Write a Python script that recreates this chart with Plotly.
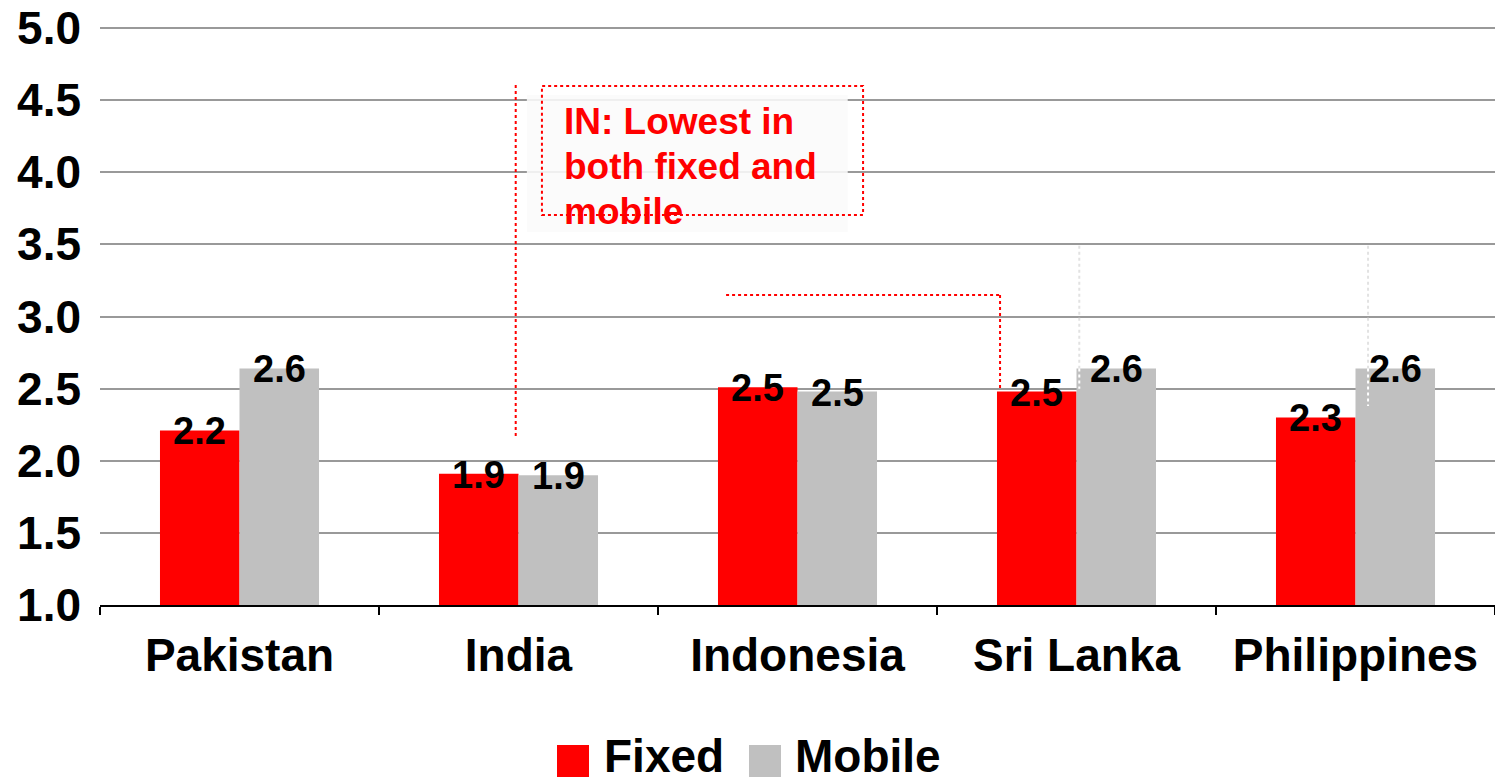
import plotly.graph_objects as go

# Average download speed score by country, fixed vs mobile
countries = ["Pakistan", "India", "Indonesia", "Sri Lanka", "Philippines"]
fixed = [2.21, 1.91, 2.51, 2.48, 2.30]
mobile = [2.64, 1.90, 2.48, 2.64, 2.64]
y_ticks = [1.0, 1.5, 2.0, 2.5, 3.0, 3.5, 4.0, 4.5, 5.0]
series_names = ["Fixed", "Mobile"]
callout_lines = ["IN: Lowest in", "both fixed and", "mobile"]

RED = "#FF0000"
GREY = "#C0C0C0"
GRID = "#999999"
FONT = "Liberation Sans, Arial, sans-serif"
W, H = 1495, 780
ML, MR, MT, MB = 100, 0, 28, 175
PW, PH = W - ML - MR, H - MT - MB
BARGAP = 0.43
Y_RANGE = [1, 5]

fig = go.Figure()
for name, vals, col in [(series_names[0], fixed, RED), (series_names[1], mobile, GREY)]:
    fig.add_bar(x=countries, y=vals, name=name, marker=dict(color=col, line=dict(width=0)),
                showlegend=False)

# value labels straddling the top of each bar
bar_w = (1 - BARGAP) / 2
annotations = []
for k, vals in enumerate([fixed, mobile]):
    off = (k - 0.5) * bar_w
    for i, v in enumerate(vals):
        annotations.append(dict(
            x=i + off, y=v, xref="x", yref="y", text=f"{v:.1f}", showarrow=False,
            xanchor="center", yanchor="middle", yshift=-1,
            font=dict(family=FONT, size=38, color="black", weight="bold")))

# top gridline sits on the plot edge, so draw it explicitly (unclipped)
shapes = [dict(type="line", xref="paper", yref="paper", x0=0, x1=1, y0=1, y1=1,
               line=dict(color=GRID, width=2), layer="below")]

# faint leftover leader lines
def dotted(x0, y0, x1, y1, color):
    shapes.append(dict(type="line", xref="x", yref="y", x0=x0, y0=y0, x1=x1, y1=y1,
                       line=dict(color=color, width=2, dash="dot"), layer="above"))

dotted(3.01, 3.49, 3.01, mobile[3], "#e2e2e2")
dotted(3.01, mobile[3], 3.01, 2.50, "#ffffff")
dotted(4.045, 3.49, 4.045, mobile[4], "#e2e2e2")
dotted(4.045, mobile[4], 4.045, 2.38, "#ffffff")

# faded text box behind the callout
shapes.append(dict(type="rect", xref="x", yref="y", x0=1.03, x1=2.18, y0=3.586, y1=4.535,
                   fillcolor="rgba(251,251,251,0.88)", line=dict(width=0), layer="above"))

# callout: India lowest in both
dotted(0.99, 4.605, 0.99, 2.165, RED)
dotted(1.744, 3.149, 2.726, 3.149, RED)
dotted(2.726, 3.149, 2.726, 2.49, RED)
shapes.append(dict(type="rect", xref="x", yref="y", x0=1.084, x1=2.235, y0=3.704, y1=4.598,
                   line=dict(color=RED, width=2, dash="dot"), fillcolor="rgba(0,0,0,0)",
                   layer="above"))
for j, line in enumerate(callout_lines):
    annotations.append(dict(x=1.155, y=4.51, xref="x", yref="y", yshift=-45 * j,
                            text=line, showarrow=False,
                            xanchor="left", yanchor="top", align="left",
                            font=dict(family=FONT, size=37, color=RED, weight="bold")))

# legend drawn below the axis
def px_x(p):
    return (p - ML) / PW

def px_y(p):
    return (H - MB - p) / PH

for col, sx, tx, label in [(RED, 557, 602, series_names[0]), (GREY, 749, 793, series_names[1])]:
    shapes.append(dict(type="rect", xref="paper", yref="paper",
                       x0=px_x(sx), x1=px_x(sx + 32), y0=px_y(745), y1=px_y(777),
                       fillcolor=col, line=dict(width=0)))
    annotations.append(dict(x=px_x(tx), y=px_y(756), xref="paper", yref="paper", text=label,
                            showarrow=False, xanchor="left", yanchor="middle",
                            font=dict(family=FONT, size=46, color="black", weight="bold")))

fig.update_layout(
    width=W, height=H,
    margin=dict(l=ML, r=MR, t=MT, b=MB),
    paper_bgcolor="white", plot_bgcolor="white",
    barmode="group", bargap=BARGAP, bargroupgap=0,
    font=dict(family=FONT, color="black"),
    annotations=annotations, shapes=shapes,
    xaxis=dict(showline=True, linecolor="black", linewidth=2, ticks="outside",
               tickson="boundaries", ticklen=8, tickwidth=2, tickcolor="black",
               showgrid=False, tickfont=dict(family=FONT, size=46, weight="bold"),
               ticklabelstandoff=9),
    yaxis=dict(range=Y_RANGE, tickvals=y_ticks, tickformat=".1f", showgrid=True,
               gridcolor=GRID, gridwidth=2, zeroline=False, showline=False,
               tickfont=dict(family=FONT, size=46, weight="bold"), ticklabelstandoff=18),
)

fig.write_html("out.html")
